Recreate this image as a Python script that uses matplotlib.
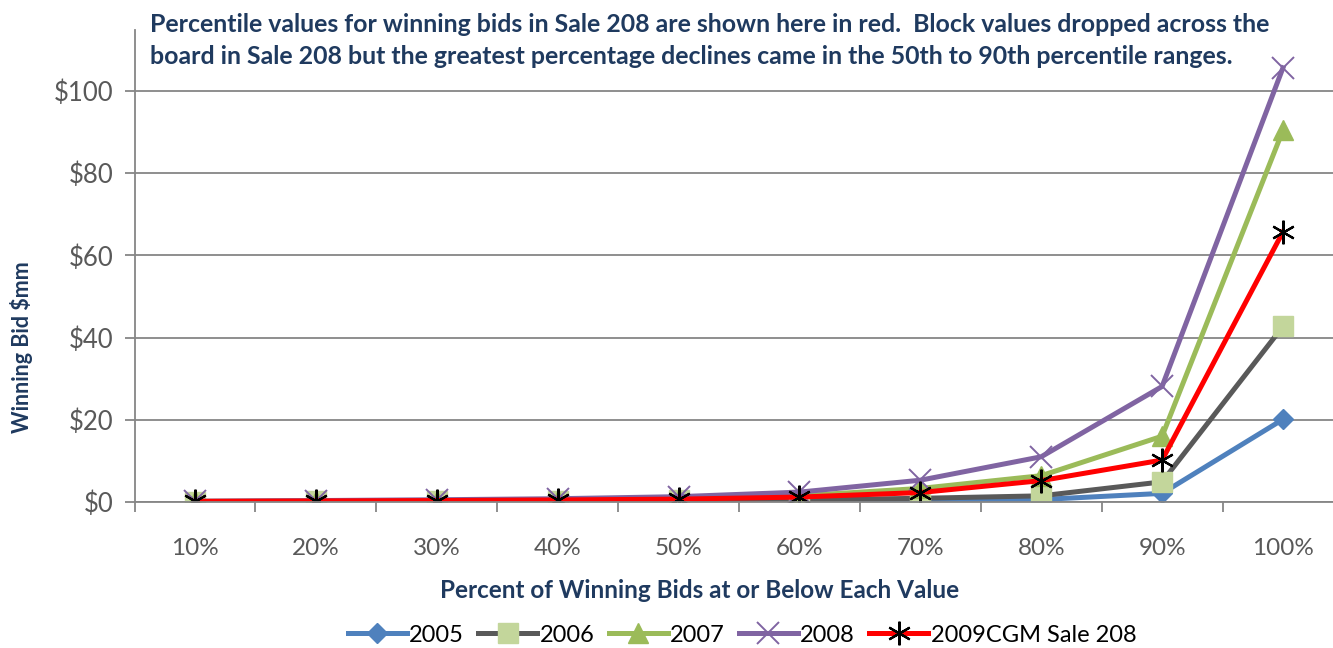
import matplotlib
matplotlib.use('Agg')
import matplotlib.pyplot as plt
import numpy as np

plt.rcParams['font.family'] = ['Lato', 'DejaVu Sans']

categories = ['10%', '20%', '30%', '40%', '50%', '60%', '70%', '80%', '90%', '100%']
y2005 = [0.05, 0.1, 0.15, 0.2, 0.25, 0.3, 0.4, 0.6, 2.1, 20.1]
y2006 = [0.1, 0.15, 0.2, 0.3, 0.4, 0.5, 0.9, 1.5, 4.9, 42.7]
y2007 = [0.15, 0.25, 0.35, 0.5, 0.8, 1.5, 3.3, 6.4, 16.0, 90.4]
y2008 = [0.2, 0.35, 0.55, 0.8, 1.3, 2.4, 5.3, 11.0, 28.1, 105.6]
y2009 = [0.15, 0.25, 0.35, 0.5, 0.7, 1.2, 2.3, 5.2, 10.2, 65.7]
yticks = [0, 20, 40, 60, 80, 100]

navy = '#1F3A5F'
grey = '#868686'
txt = '#595959'

fig = plt.figure(figsize=(13.33, 6.48), dpi=100)
ax = fig.add_axes([134.6 / 1333, 146 / 648, 1208.8 / 1333, 472 / 648])

x = np.arange(len(categories))
lw = 3.6
ax.plot(x, y2005, color='#4F81BD', lw=lw, marker='D', ms=10, mfc='#4F81BD', mec='#4F81BD', label='2005')
ax.plot(x, y2006, color='#595959', lw=lw, marker='s', ms=14, mfc='#C3D69B', mec='#C3D69B', label='2006')
ax.plot(x, y2007, color='#9BBB59', lw=lw, marker='^', ms=15, mfc='#9BBB59', mec='#9BBB59', label='2007')
ax.plot(x, y2008, color='#8064A2', lw=lw, marker='x', ms=16, mew=1.4, mec='#8064A2', label='2008')
ax.plot(x, y2009, color='#FF0000', lw=lw, marker=(6, 2, 0), ms=17, mew=1.6, mec='black', label='2009CGM Sale 208')

ax.set_xlim(-0.5, len(categories) - 0.5)
ax.set_ylim(0, 114.8)
ax.set_xticks(x)
ax.set_xticklabels(categories)
ax.set_xticks(np.arange(-0.5, len(categories), 1.0), minor=True)
ax.tick_params(axis='x', which='major', length=0, pad=26, labelsize=17.5, labelcolor=txt)
ax.tick_params(axis='x', which='minor', length=7, color=grey, width=1.3, direction='out')
ax.set_yticks(yticks)
ax.set_yticklabels(['$%d' % v for v in yticks])
ax.tick_params(axis='y', length=7, color=grey, width=1.3, labelsize=18.5, labelcolor=txt, pad=8)

ax.grid(axis='y', color=grey, lw=1.3)
ax.set_axisbelow(True)
for s in ['top', 'right']:
    ax.spines[s].set_visible(False)
for s in ['left', 'bottom']:
    ax.spines[s].set_color(grey)
    ax.spines[s].set_linewidth(1.3)

ax.set_xlabel('Percent of Winning Bids at or Below Each Value', fontsize=17.5, fontweight='bold', color=navy)
ax.xaxis.set_label_coords((700 - 134.6) / 1208.8, -(591 - 502) / 472)
ax.xaxis.label.set_va('center')
ax.set_ylabel('Winning Bid $mm', fontsize=15.5, fontweight='bold', color=navy)
ax.yaxis.set_label_coords(-(134.6 - 22) / 1208.8, (502 - 347) / 472)
ax.yaxis.label.set_va('center')

title1 = 'Percentile values for winning bids in Sale 208 are shown here in red.  Block values dropped across the'
title2 = 'board in Sale 208 but the greatest percentage declines came in the 50th to 90th percentile ranges.'
fig.text(150 / 1333, 1 - 24 / 648, title1, fontsize=17.9, fontweight='bold', color=navy, va='center')
fig.text(150 / 1333, 1 - 56 / 648, title2, fontsize=17.9, fontweight='bold', color=navy, va='center')

ax.legend(loc='center', bbox_to_anchor=(742 / 1333, 1 - 635 / 648), bbox_transform=fig.transFigure,
          ncol=5, frameon=False, fontsize=17, handlelength=2.5, columnspacing=0.6, handletextpad=0.1)

fig.savefig('out.png', dpi=100)
